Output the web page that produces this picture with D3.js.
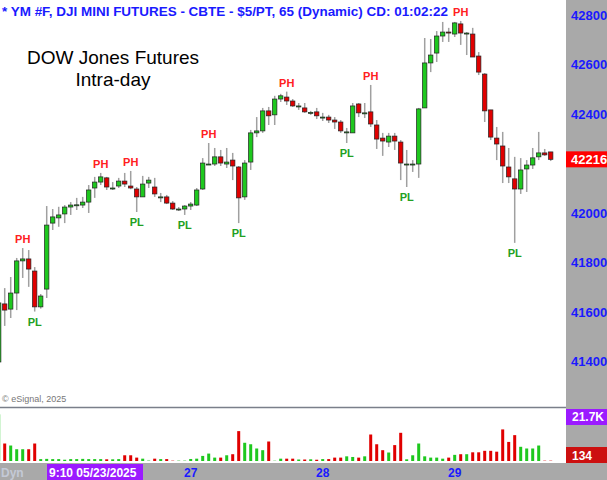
<!DOCTYPE html>
<html>
<head>
<meta charset="utf-8">
<script src="https://cdn.jsdelivr.net/npm/d3@7"></script>
<style>
  body { margin: 0; background: #fff; }
  text { font-family: "Liberation Sans", Arial, sans-serif; }
</style>
</head>
<body>
<script>
var openP  = [41396,41631,41610,41675,41805,41813,41764,41619,41691,41958,41979,41995,42023,42030,42031,42043,42100,42124,42141,42100,42108,42128,42108,42096,42064,42120,42104,42064,42064,42039,42015,42015,42027,42031,42096,42197,42197,42226,42197,42213,42185,42064,42205,42323,42331,42412,42396,42460,42468,42452,42432,42424,42402,42408,42387,42387,42375,42367,42327,42323,42440,42404,42408,42355,42302,42286,42310,42286,42197,42197,42197,42424,42606,42646,42715,42731,42723,42764,42727,42723,42634,42561,42416,42302,42270,42185,42137,42096,42177,42193,42226,42242,42246]
var highP  = [41640,41695,41740,41817,41857,41849,41780,41671,42027,42015,42024,42031,42043,42060,42064,42112,42145,42161,42145,42124,42141,42161,42169,42104,42149,42145,42141,42080,42072,42047,42023,42031,42043,42100,42221,42282,42262,42254,42262,42242,42189,42213,42335,42387,42424,42428,42473,42481,42490,42460,42444,42444,42412,42424,42404,42396,42387,42375,42343,42444,42444,42444,42517,42375,42323,42323,42323,42294,42254,42213,42424,42707,42703,42735,42772,42748,42772,42776,42731,42748,42650,42565,42416,42347,42327,42262,42226,42221,42213,42262,42327,42258,42246]
var lowP   = [41390,41542,41574,41606,41736,41700,41600,41612,41655,41930,41943,41958,41991,42011,42019,41999,42060,42112,42092,42092,42100,42104,42095,42003,42064,42100,42064,42043,42035,42011,42007,41991,42011,42027,42092,42193,42189,42189,42181,42132,41958,42052,42173,42306,42323,42355,42355,42448,42436,42428,42416,42404,42396,42379,42371,42363,42339,42323,42282,42323,42387,42383,42347,42258,42230,42266,42254,42132,42104,42165,42141,42424,42569,42610,42691,42691,42711,42679,42638,42630,42557,42367,42294,42213,42120,42120,41878,42076,42084,42177,42213,42230,42209]
var closeP = [41635,41606,41675,41805,41813,41772,41619,41663,41950,41983,41991,42023,42031,42032,42043,42092,42124,42145,42104,42100,42128,42116,42100,42064,42116,42132,42076,42064,42039,42015,42015,42027,42035,42092,42201,42197,42226,42201,42205,42189,42060,42201,42323,42331,42412,42392,42460,42473,42452,42432,42432,42408,42406,42392,42387,42375,42367,42331,42327,42432,42404,42404,42359,42298,42290,42310,42290,42201,42197,42197,42420,42606,42638,42715,42731,42727,42768,42727,42727,42630,42569,42412,42306,42278,42189,42145,42096,42173,42193,42222,42242,42234,42216]
var volume = [22000,8250,7300,5550,5550,5550,8250,900,1000,900,900,600,900,900,1000,900,900,900,800,800,900,2700,2700,1600,1100,500,1100,900,900,400,400,400,950,1100,2400,3500,1600,1600,2700,3200,14100,8600,7900,5900,5100,9200,300,1100,1100,1100,700,700,800,600,900,900,1600,1600,2200,1900,1600,2200,12500,7900,5100,4000,7500,13300,800,2700,8250,2200,1600,1600,1100,1600,2900,3200,3200,4100,4100,4800,4800,4400,14900,9000,12200,6700,5900,5900,7300,400,400]
var pivotHigh = [4, 17, 22, 35, 48, 62, 77]
var pivotLow = [6, 23, 31, 40, 58, 68, 86]
var priceTicks = [42800, 42600, 42400, 42000, 41800, 41600, 41400]
var dateLabels = [{i: 32, t: '27'}, {i: 54, t: '28'}, {i: 76, t: '29'}]
var lastPrice = 42216

var W = 607, H = 480, axisX = 566
var svg = d3.select('body').append('svg').attr('width', W).attr('height', H)

var x = d3.scaleLinear().domain([0, 92]).range([-1.3, 550.7])
var y = d3.scaleLinear().domain([41400, 42800]).range([361, 15])
var yv = d3.scaleLinear().domain([0, 21700]).range([461, 415])
var green = '#1ec81e', red = '#e00000'

// right axis + bottom strip
svg.append('rect').attr('x', axisX).attr('y', 0).attr('width', W - axisX).attr('height', H).attr('fill', '#a9a9a9')
svg.append('rect').attr('x', 0).attr('y', 463).attr('width', W).attr('height', 17).attr('fill', '#a9a9a9')
svg.append('line').attr('x1', 0).attr('x2', axisX).attr('y1', 407.5).attr('y2', 407.5).attr('stroke', '#7a7f8a').attr('stroke-width', 1.5)

// title
svg.append('text').attr('x', 2).attr('y', 16).attr('fill', '#1a1aff').attr('font-size', 12).attr('font-weight', 'bold')
  .attr('textLength', 446).attr('lengthAdjust', 'spacingAndGlyphs')
  .text('* YM #F, DJI MINI FUTURES - CBTE - $5/PT, 65 (Dynamic) CD: 01:02:22')
svg.append('text').attr('x', 113).attr('y', 64).attr('text-anchor', 'middle').attr('font-size', 19).text('DOW Jones Futures')
svg.append('text').attr('x', 113).attr('y', 86).attr('text-anchor', 'middle').attr('font-size', 19).text('Intra-day')
svg.append('text').attr('x', 2).attr('y', 402).attr('fill', '#777').attr('font-size', 9).text('© eSignal, 2025')

// price labels
svg.selectAll('text.tick').data(priceTicks).enter().append('text')
  .attr('class', 'tick').attr('x', 571).attr('y', function(d) { return y(d) + 5 })
  .attr('fill', '#1a1aff').attr('font-size', 13).attr('font-weight', 'bold').text(function(d) { return d })
svg.append('rect').attr('x', axisX).attr('y', y(lastPrice) - 8).attr('width', W - axisX).attr('height', 16).attr('fill', '#f00')
svg.append('text').attr('x', 571).attr('y', y(lastPrice) + 5).attr('fill', '#fff').attr('font-size', 13).attr('font-weight', 'bold').text(lastPrice)

var idx = d3.range(openP.length)
function col(i) { return closeP[i] >= openP[i] ? green : red }

// wicks
svg.selectAll('line.wick').data(idx).enter().append('line')
  .attr('x1', function(i) { return x(i) }).attr('x2', function(i) { return x(i) })
  .attr('y1', function(i) { return y(highP[i]) }).attr('y2', function(i) { return y(lowP[i]) })
  .attr('stroke', '#a0a0a0').attr('stroke-width', 1.5)

// bodies
svg.selectAll('rect.body').data(idx).enter().append('rect')
  .attr('x', function(i) { return x(i) - 2.2 }).attr('width', 4.4)
  .attr('y', function(i) { return y(Math.max(openP[i], closeP[i])) })
  .attr('height', function(i) { return Math.max(1, Math.abs(y(openP[i]) - y(closeP[i]))) })
  .attr('fill', col).attr('stroke', '#222').attr('stroke-width', 0.7)

// pivots
svg.selectAll('text.ph').data(pivotHigh).enter().append('text')
  .attr('x', function(i) { return x(i) }).attr('y', function(i) { return y(highP[i]) - 5 })
  .attr('text-anchor', 'middle').attr('fill', '#ff2020').attr('font-size', 11).attr('font-weight', 'bold').text('PH')
svg.selectAll('text.pl').data(pivotLow).enter().append('text')
  .attr('x', function(i) { return x(i) }).attr('y', function(i) { return y(lowP[i]) + 14 })
  .attr('text-anchor', 'middle').attr('fill', '#22a022').attr('font-size', 11).attr('font-weight', 'bold').text('PL')

// volume
svg.selectAll('rect.vol').data(idx).enter().append('rect')
  .attr('x', function(i) { return x(i) - 1.5 }).attr('width', 3)
  .attr('y', function(i) { return yv(volume[i]) })
  .attr('height', function(i) { return yv(0) - yv(volume[i]) })
  .attr('fill', function(i) { return volume[i] < 600 ? (col(i) == green ? '#a6e0a6' : '#f0a0a0') : col(i) })
svg.append('rect').attr('x', axisX).attr('y', 409).attr('width', W - axisX).attr('height', 16).attr('fill', '#9b1aff')
svg.append('text').attr('x', 572).attr('y', 421).attr('fill', '#fff').attr('font-size', 12).attr('font-weight', 'bold').text('21.7K')
svg.append('rect').attr('x', axisX).attr('y', 447).attr('width', W - axisX).attr('height', 16).attr('fill', '#cc1010')
svg.append('text').attr('x', 572).attr('y', 460).attr('fill', '#fff').attr('font-size', 12).attr('font-weight', 'bold').text('134')

// bottom dates
svg.append('text').attr('x', 1).attr('y', 477).attr('fill', '#c4c9d6').attr('font-size', 12).attr('font-weight', 'bold').text('Dyn')
svg.append('rect').attr('x', 47).attr('y', 464).attr('width', 96).attr('height', 16).attr('fill', '#9b1aff')
svg.append('text').attr('x', 49).attr('y', 477).attr('fill', '#fff').attr('font-size', 12).attr('font-weight', 'bold').text('9:10 05/23/2025')
svg.selectAll('text.date').data(dateLabels).enter().append('text')
  .attr('x', function(d) { return x(d.i) }).attr('y', 477).attr('text-anchor', 'middle')
  .attr('fill', '#1a1aff').attr('font-size', 12).attr('font-weight', 'bold').text(function(d) { return d.t })
</script>
</body>
</html>
